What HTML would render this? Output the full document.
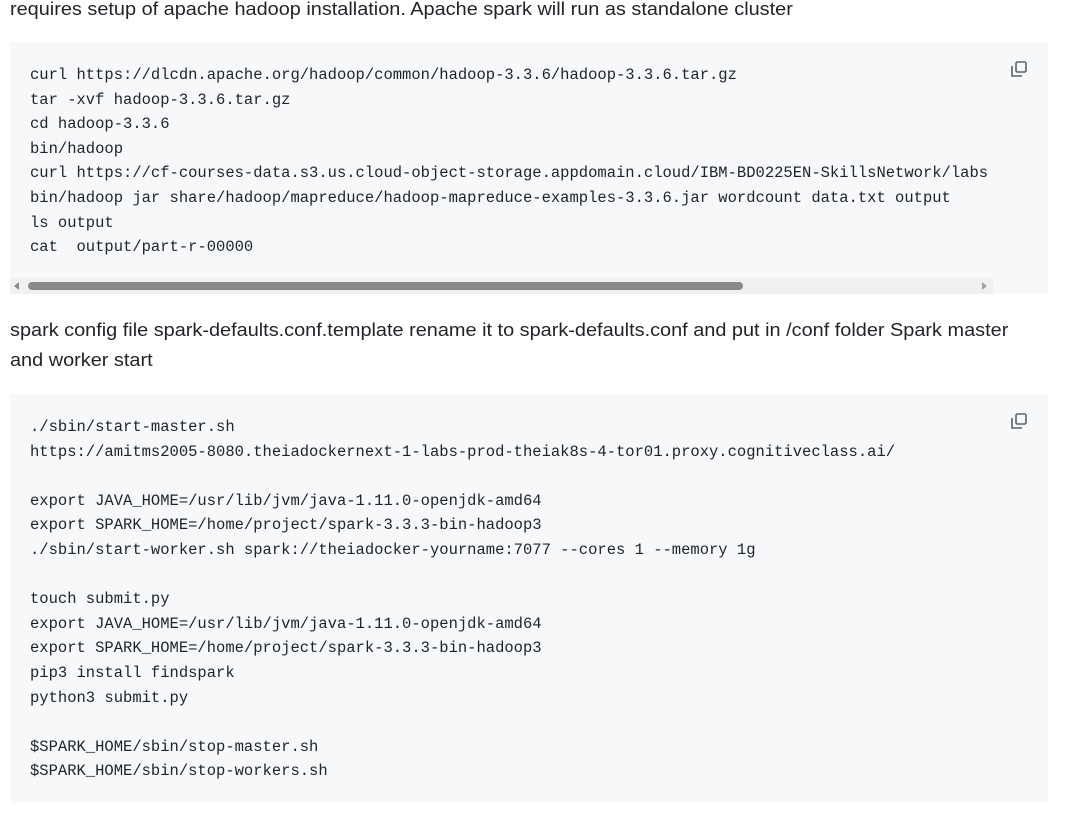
<!DOCTYPE html>
<html><head><meta charset="utf-8"><style>
html,body{margin:0;padding:0;background:#fff;width:1074px;height:814px;overflow:hidden;position:relative;color:#1f2328}
.t{position:absolute;left:10px;font-family:"Liberation Sans",sans-serif;font-size:18px;line-height:30px;white-space:nowrap;transform:scaleX(1.105);transform-origin:0 0}
.cb{position:absolute;left:10px;width:1038px;background:#f6f8fa}
pre{position:absolute;left:20px;margin:0;font-family:"Liberation Mono",monospace;font-size:15.5px;line-height:24.6px;color:#1f2328;white-space:pre}
.cp{position:absolute;right:20px;width:18px;height:18px}
</style></head><body>
<div class="t" style="top:-6px">requires setup of apache hadoop installation. Apache spark will run as standalone cluster</div>
<div class="cb" style="top:42px;height:252px">
<pre style="top:21px">curl https://dlcdn.apache.org/hadoop/common/hadoop-3.3.6/hadoop-3.3.6.tar.gz
tar -xvf hadoop-3.3.6.tar.gz
cd hadoop-3.3.6
bin/hadoop
curl https://cf-courses-data.s3.us.cloud-object-storage.appdomain.cloud/IBM-BD0225EN-SkillsNetwork/labs
bin/hadoop jar share/hadoop/mapreduce/hadoop-mapreduce-examples-3.3.6.jar wordcount data.txt output
ls output
cat  output/part-r-00000</pre>
<svg class="cp" style="top:18px" viewBox="0 0 18 18"><path d="M2 6v10h10" fill="none" stroke="#59636e" stroke-width="1.6"/><rect x="6" y="2" width="10" height="10" rx="1.5" fill="none" stroke="#59636e" stroke-width="1.6"/></svg>
<div style="position:absolute;left:0;top:236px;width:983px;height:16px;background:#f0f0f0"></div>
<div style="position:absolute;left:18px;top:240px;width:715px;height:8px;border-radius:4px;background:#8a8a8a"></div>
<div style="position:absolute;left:4px;top:240px;width:0;height:0;border-top:4px solid transparent;border-bottom:4px solid transparent;border-right:5px solid #8a8a8a"></div>
<div style="position:absolute;left:972px;top:240px;width:0;height:0;border-top:4px solid transparent;border-bottom:4px solid transparent;border-left:5px solid #a0a0a0"></div>
</div>
<div class="t" style="top:315px">spark config file spark-defaults.conf.template rename it to spark-defaults.conf and put in /conf folder Spark master<br>and worker start</div>
<div class="cb" style="top:394px;height:409px">
<pre style="top:21px">./sbin/start-master.sh
https://amitms2005-8080.theiadockernext-1-labs-prod-theiak8s-4-tor01.proxy.cognitiveclass.ai/

export JAVA_HOME=/usr/lib/jvm/java-1.11.0-openjdk-amd64
export SPARK_HOME=/home/project/spark-3.3.3-bin-hadoop3
./sbin/start-worker.sh spark://theiadocker-yourname:7077 --cores 1 --memory 1g

touch submit.py
export JAVA_HOME=/usr/lib/jvm/java-1.11.0-openjdk-amd64
export SPARK_HOME=/home/project/spark-3.3.3-bin-hadoop3
pip3 install findspark
python3 submit.py

$SPARK_HOME/sbin/stop-master.sh
$SPARK_HOME/sbin/stop-workers.sh</pre>
<svg class="cp" style="top:18px" viewBox="0 0 18 18"><path d="M2 6v10h10" fill="none" stroke="#59636e" stroke-width="1.6"/><rect x="6" y="2" width="10" height="10" rx="1.5" fill="none" stroke="#59636e" stroke-width="1.6"/></svg>
</div>
</body></html>
